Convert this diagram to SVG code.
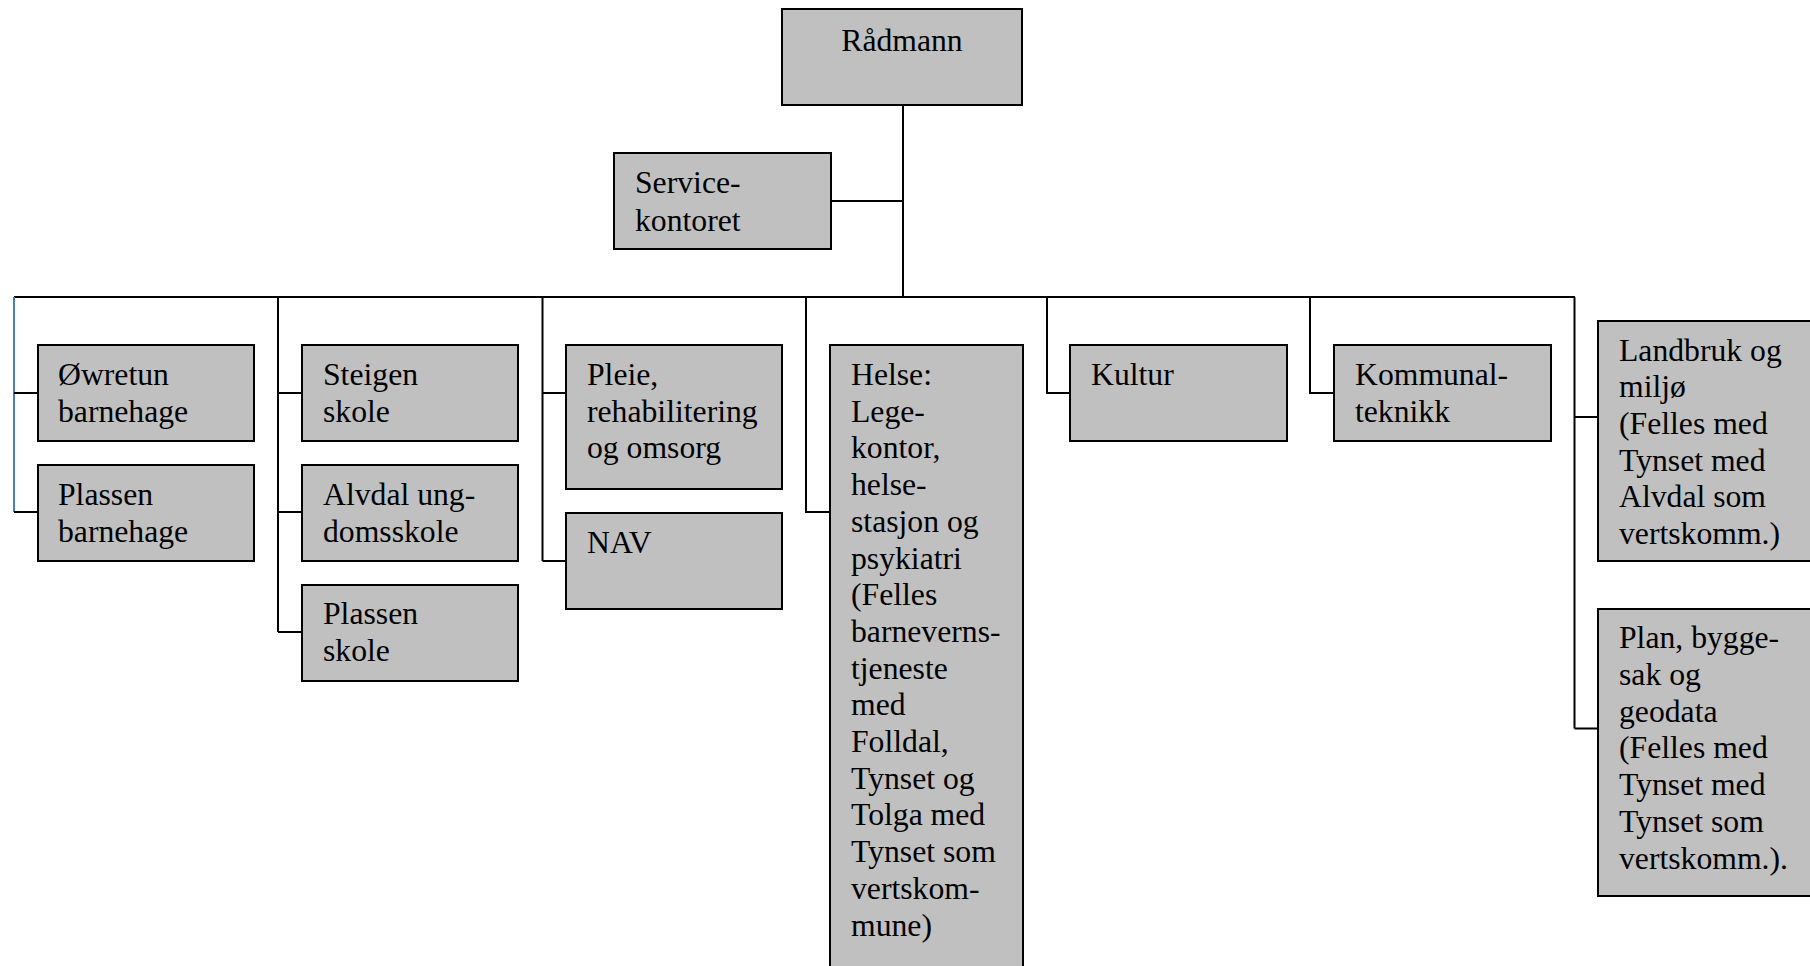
<svg xmlns="http://www.w3.org/2000/svg" width="1810" height="966" viewBox="0 0 1810 966">
<style>
.box{fill:#c0c0c0;stroke:#000;stroke-width:2}
.t{font-family:"Liberation Serif","Times New Roman",serif;font-size:31.7px;fill:#000}
.c{fill:none;stroke:#000;stroke-width:2}
.b{fill:none;stroke:#4a7ebb;stroke-width:2}
</style>
<rect width="1810" height="966" fill="#fff"/>
<g id="connectors">
<path class="c" d="M903 105V297M831 201H903M14 297H1575"/>
<path class="b" d="M14 297V512"/>
<path class="c" d="M14 393H38M14 512H38"/>
<path class="c" d="M278 297V632M278 393H302M278 512H302M278 632H302"/>
<path class="c" d="M542.5 297V561M542.5 393H566M542.5 561H566"/>
<path class="c" d="M806 297V512H830"/>
<path class="c" d="M1047 297V393H1070"/>
<path class="c" d="M1310 297V393H1334"/>
<path class="c" d="M1574.5 297V728.5M1574.5 417H1598M1574.5 728.5H1598"/>
</g>
<g id="radmann"><rect class="box" x="782" y="9" width="240" height="96"/><text class="t" x="902" y="50.7" text-anchor="middle">Rådmann</text></g>
<g id="service"><rect class="box" x="614" y="153" width="217" height="96"/><text class="t" x="635"><tspan x="635" y="193.3">Service-</tspan><tspan x="635" y="230.5">kontoret</tspan></text></g>
<g id="owretun"><rect class="box" x="38" y="345" width="216" height="96"/><text class="t"><tspan x="58" y="385">Øwretun</tspan><tspan x="58" y="421.7">barnehage</tspan></text></g>
<g id="plassen-bh"><rect class="box" x="38" y="465" width="216" height="96"/><text class="t"><tspan x="58" y="505">Plassen</tspan><tspan x="58" y="541.7">barnehage</tspan></text></g>
<g id="steigen"><rect class="box" x="302" y="345" width="216" height="96"/><text class="t"><tspan x="323" y="385">Steigen</tspan><tspan x="323" y="421.7">skole</tspan></text></g>
<g id="alvdal"><rect class="box" x="302" y="465" width="216" height="96"/><text class="t"><tspan x="323" y="505">Alvdal ung-</tspan><tspan x="323" y="541.7">domsskole</tspan></text></g>
<g id="plassen-skole"><rect class="box" x="302" y="585" width="216" height="96"/><text class="t"><tspan x="323" y="624">Plassen</tspan><tspan x="323" y="660.7">skole</tspan></text></g>
<g id="pleie"><rect class="box" x="566" y="345" width="216" height="144"/><text class="t"><tspan x="587" y="385">Pleie,</tspan><tspan x="587" y="421.7">rehabilitering</tspan><tspan x="587" y="458.4">og omsorg</tspan></text></g>
<g id="nav"><rect class="box" x="566" y="513" width="216" height="96"/><text class="t" x="587" y="553">NAV</text></g>
<g id="helse"><rect class="box" x="830" y="345" width="193" height="630"/><text class="t"><tspan x="851" y="385">Helse:</tspan><tspan x="851" y="421.7">Lege-</tspan><tspan x="851" y="458.4">kontor,</tspan><tspan x="851" y="495.1">helse-</tspan><tspan x="851" y="531.8">stasjon og</tspan><tspan x="851" y="568.5">psykiatri</tspan><tspan x="851" y="605.2">(Felles</tspan><tspan x="851" y="641.9">barneverns-</tspan><tspan x="851" y="678.6">tjeneste</tspan><tspan x="851" y="715.3">med</tspan><tspan x="851" y="752">Folldal,</tspan><tspan x="851" y="788.7">Tynset og</tspan><tspan x="851" y="825.4">Tolga med</tspan><tspan x="851" y="862.1">Tynset som</tspan><tspan x="851" y="898.8">vertskom-</tspan><tspan x="851" y="935.5">mune)</tspan></text></g>
<g id="kultur"><rect class="box" x="1070" y="345" width="217" height="96"/><text class="t" x="1091" y="385">Kultur</text></g>
<g id="kommunalteknikk"><rect class="box" x="1334" y="345" width="217" height="96"/><text class="t"><tspan x="1355" y="385">Kommunal-</tspan><tspan x="1355" y="421.7">teknikk</tspan></text></g>
<g id="landbruk"><rect class="box" x="1598" y="321" width="230" height="240"/><text class="t"><tspan x="1619" y="360.5">Landbruk og</tspan><tspan x="1619" y="397.2">miljø</tspan><tspan x="1619" y="433.9">(Felles med</tspan><tspan x="1619" y="470.6">Tynset med</tspan><tspan x="1619" y="507.3">Alvdal som</tspan><tspan x="1619" y="544">vertskomm.)</tspan></text></g>
<g id="plan"><rect class="box" x="1598" y="609" width="230" height="287"/><text class="t"><tspan x="1619" y="648.3">Plan, bygge-</tspan><tspan x="1619" y="685">sak og</tspan><tspan x="1619" y="721.7">geodata</tspan><tspan x="1619" y="758.4">(Felles med</tspan><tspan x="1619" y="795.1">Tynset med</tspan><tspan x="1619" y="831.8">Tynset som</tspan><tspan x="1619" y="868.5">vertskomm.).</tspan></text></g>
</svg>
